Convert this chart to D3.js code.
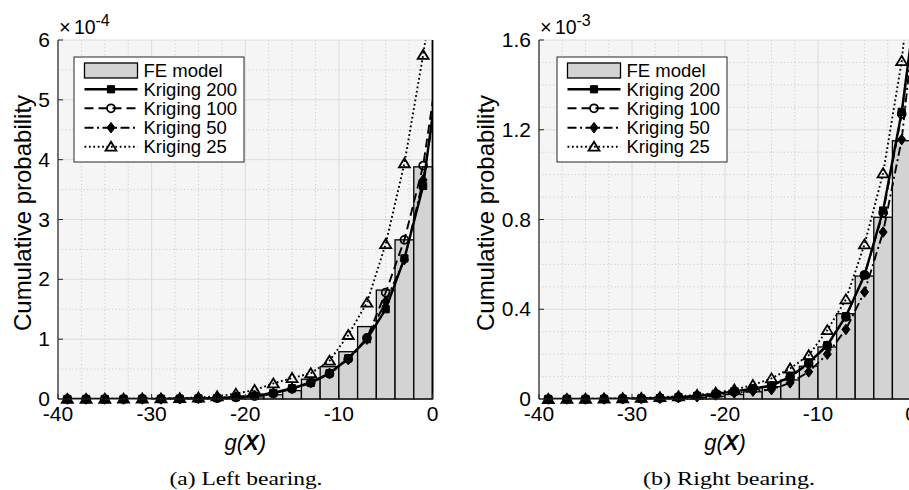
<!DOCTYPE html>
<html>
<head>
<meta charset="utf-8">
<script src="https://cdn.jsdelivr.net/npm/d3@7/dist/d3.min.js"></script>
<style>
  body { margin: 0; background: #fff; }
  svg { display: block; }
  text { font-family: "Liberation Sans", Arial, Helvetica, sans-serif; fill: #000; }
</style>
</head>
<body>
<svg id="chart" width="909" height="490"></svg>
<script>
// ---- data -------------------------------------------------------------
// g(X) points where the Kriging CDFs are evaluated (the last one lies past the axis limit)
const gPoints = [-39, -37, -35, -33, -31, -29, -27, -25, -23, -21, -19, -17, -15, -13, -11, -9, -7, -5, -3, -1, 1];
// FE model histogram: bin edges (width 2) and cumulative probability per bin
const binStart = [-40, -38, -36, -34, -32, -30, -28, -26, -24, -22, -20, -18, -16, -14, -12, -10, -8, -6, -4, -2];
const binEnd   = [-38, -36, -34, -32, -30, -28, -26, -24, -22, -20, -18, -16, -14, -12, -10, -8, -6, -4, -2, 0];

// Left bearing (x 1e-4)
const leftFE    = [0, 0, 0, 0, 0, 0.001, 0.002, 0.004, 0.008, 0.015, 0.035, 0.07, 0.14, 0.33, 0.54, 0.79, 1.21, 1.82, 2.66, 3.88];
const leftK200  = [0, 0, 0, 0, 0.001, 0.002, 0.004, 0.008, 0.015, 0.03, 0.05, 0.10, 0.18, 0.27, 0.43, 0.68, 1.00, 1.50, 2.35, 3.56, 5.9];
const leftK100  = [0, 0, 0, 0, 0.001, 0.002, 0.004, 0.008, 0.015, 0.03, 0.05, 0.09, 0.17, 0.27, 0.42, 0.67, 1.02, 1.78, 2.66, 3.90, 6.0];
const leftK50   = [0, 0, 0, 0, 0.001, 0.002, 0.005, 0.01, 0.02, 0.035, 0.06, 0.10, 0.18, 0.28, 0.43, 0.66, 1.00, 1.63, 2.33, 3.66, 5.6];
const leftK25   = [0.001, 0.002, 0.003, 0.005, 0.007, 0.01, 0.015, 0.025, 0.045, 0.09, 0.15, 0.26, 0.35, 0.43, 0.64, 1.07, 1.61, 2.59, 3.94, 5.75, 7.8];

// Right bearing (x 1e-3)
const rightFE   = [0, 0, 0, 0, 0, 0.001, 0.002, 0.004, 0.007, 0.012, 0.02, 0.032, 0.055, 0.085, 0.146, 0.232, 0.38, 0.548, 0.81, 1.151];
const rightK200 = [0, 0, 0, 0.0005, 0.001, 0.002, 0.004, 0.008, 0.014, 0.023, 0.034, 0.046, 0.06, 0.099, 0.161, 0.24, 0.369, 0.551, 0.84, 1.28, 1.91];
const rightK100 = [0, 0, 0, 0.0005, 0.001, 0.002, 0.004, 0.008, 0.014, 0.022, 0.033, 0.045, 0.058, 0.097, 0.158, 0.238, 0.366, 0.553, 0.83, 1.27, 1.90];
const rightK50  = [0, 0, 0, 0, 0.001, 0.002, 0.003, 0.006, 0.01, 0.018, 0.027, 0.035, 0.042, 0.072, 0.121, 0.20, 0.31, 0.477, 0.744, 1.156, 1.93];
const rightK25  = [0, 0.0005, 0.001, 0.002, 0.003, 0.005, 0.008, 0.012, 0.018, 0.028, 0.042, 0.062, 0.092, 0.136, 0.195, 0.307, 0.444, 0.689, 1.006, 1.506, 2.33];

// axis ticks and labels
const xTicks = [-40, -30, -20, -10, 0];
const leftYTicks = [0, 1, 2, 3, 4, 5, 6];
const leftYTickLabels = ["0", "1", "2", "3", "4", "5", "6"];
const rightYTicks = [0, 0.4, 0.8, 1.2, 1.6];
const rightYTickLabels = ["0", "0.4", "0.8", "1.2", "1.6"];
const seriesNames = ["FE model", "Kriging 200", "Kriging 100", "Kriging 50", "Kriging 25"];
const captions = ["(a) Left bearing.", "(b) Right bearing."];
const exponents = ["-4", "-3"];

// ---- styles -----------------------------------------------------------
const barFill = "#d3d3d3";
const plotBg = "#f5f5f5";
const axisColor = "#262626";

const markerPaths = {
  square:   "M-3.6,-3.6H3.6V3.6H-3.6Z",
  circle:   "M4,0A4,4 0 1,1 -4,0A4,4 0 1,1 4,0Z",
  diamond:  "M0,-5.3L4,0L0,5.3L-4,0Z",
  triangle: "M0,-5L5.5,4L-5.5,4Z"
};

const lineStyles = [
  { name: seriesNames[1], width: 2.4, dash: null,          marker: "square",   fill: "#000",  mstroke: 1 },
  { name: seriesNames[2], width: 1.9, dash: "9,5",         marker: "circle",   fill: "none",  mstroke: 1.7 },
  { name: seriesNames[3], width: 1.9, dash: "9,3.5,2,3.5", marker: "diamond",  fill: "#000",  mstroke: 1 },
  { name: seriesNames[4], width: 1.9, dash: "1.8,2.6",     marker: "triangle", fill: "none",  mstroke: 1.8 }
];

const svg = d3.select("#chart");

function drawPanel(cfg) {
  const x = d3.scaleLinear().domain([-40, 0]).range([cfg.x0, cfg.x1]);
  const y = d3.scaleLinear().domain([0, cfg.yMax]).range([cfg.yBot, cfg.yTop]);
  const g = svg.append("g");
  const clipId = "clip-" + cfg.id;

  g.append("clipPath").attr("id", clipId)
    .append("rect")
    .attr("x", cfg.x0).attr("y", cfg.yTop)
    .attr("width", cfg.x1 - cfg.x0).attr("height", cfg.yBot - cfg.yTop);

  // plot background
  g.append("rect")
    .attr("x", cfg.x0).attr("y", cfg.yTop)
    .attr("width", cfg.x1 - cfg.x0).attr("height", cfg.yBot - cfg.yTop)
    .attr("fill", plotBg);

  // minor grid (dotted)
  const xMinor = d3.range(-40, 0.001, 2.5).filter(v => !xTicks.includes(v));
  const yMinor = d3.range(0, cfg.yMax + 1e-9, cfg.yMinorStep)
    .filter(v => !cfg.yTicks.some(t => Math.abs(t - v) < 1e-9));
  g.append("g").selectAll("line").data(xMinor).join("line")
    .attr("x1", d => x(d)).attr("x2", d => x(d))
    .attr("y1", cfg.yTop).attr("y2", cfg.yBot)
    .attr("stroke", "#bdbdbd").attr("stroke-width", 0.8).attr("stroke-dasharray", "1,2.6");
  g.append("g").selectAll("line").data(yMinor).join("line")
    .attr("x1", cfg.x0).attr("x2", cfg.x1)
    .attr("y1", d => y(d)).attr("y2", d => y(d))
    .attr("stroke", "#bdbdbd").attr("stroke-width", 0.8).attr("stroke-dasharray", "1,2.6");

  // major grid
  g.append("g").selectAll("line").data(xTicks).join("line")
    .attr("x1", d => x(d)).attr("x2", d => x(d))
    .attr("y1", cfg.yTop).attr("y2", cfg.yBot)
    .attr("stroke", "#dcdcdc").attr("stroke-width", 1);
  g.append("g").selectAll("line").data(cfg.yTicks).join("line")
    .attr("x1", cfg.x0).attr("x2", cfg.x1)
    .attr("y1", d => y(d)).attr("y2", d => y(d))
    .attr("stroke", "#dcdcdc").attr("stroke-width", 1);

  // FE model histogram bars
  g.append("g").selectAll("rect").data(cfg.fe).join("rect")
    .attr("x", (d, i) => x(binStart[i]))
    .attr("width", (d, i) => x(binEnd[i]) - x(binStart[i]))
    .attr("y", d => y(d))
    .attr("height", d => y(0) - y(d))
    .attr("fill", barFill).attr("stroke", "#000").attr("stroke-width", 1.3);

  // Kriging curves
  const line = d3.line().x(d => x(d[0])).y(d => y(d[1]));
  cfg.series.forEach((vals, k) => {
    const st = lineStyles[k];
    const pts = gPoints.map((gv, i) => [gv, vals[i]]);
    g.append("path")
      .attr("clip-path", `url(#${clipId})`)
      .attr("d", line(pts))
      .attr("fill", "none").attr("stroke", "#000")
      .attr("stroke-width", st.width)
      .attr("stroke-dasharray", st.dash);
    g.append("g").selectAll("path")
      .data(pts.filter(p => p[0] <= 0 && p[1] <= cfg.yMax))
      .join("path")
      .attr("transform", d => `translate(${x(d[0])},${y(d[1])})`)
      .attr("d", markerPaths[st.marker])
      .attr("fill", st.fill).attr("stroke", "#000").attr("stroke-width", st.mstroke);
  });

  // axes: left and bottom with inward ticks
  g.append("line").attr("x1", cfg.x0).attr("x2", cfg.x0)
    .attr("y1", cfg.yTop).attr("y2", cfg.yBot)
    .attr("stroke", axisColor).attr("stroke-width", 1.2);
  g.append("line").attr("x1", cfg.x0).attr("x2", cfg.x1)
    .attr("y1", cfg.yBot).attr("y2", cfg.yBot)
    .attr("stroke", axisColor).attr("stroke-width", 1.2);
  g.append("line").attr("x1", cfg.x1).attr("x2", cfg.x1)
    .attr("y1", cfg.yTop).attr("y2", cfg.yBot)
    .attr("stroke", "#000").attr("stroke-width", 1.8);
  g.append("g").selectAll("line").data(cfg.yTicks).join("line")
    .attr("x1", cfg.x0).attr("x2", cfg.x0 + 5)
    .attr("y1", d => y(d)).attr("y2", d => y(d))
    .attr("stroke", axisColor).attr("stroke-width", 1);
  g.append("g").selectAll("line").data(xTicks).join("line")
    .attr("x1", d => x(d)).attr("x2", d => x(d))
    .attr("y1", cfg.yBot).attr("y2", cfg.yBot - 5)
    .attr("stroke", axisColor).attr("stroke-width", 1);

  // tick labels
  g.append("g").selectAll("text").data(cfg.yTicks).join("text")
    .attr("x", cfg.x0 - 8).attr("y", d => y(d)).attr("dy", "0.34em")
    .attr("text-anchor", "end").attr("font-size", 21)
    .text((d, i) => cfg.yTickLabels[i]);
  g.append("g").selectAll("text").data(xTicks).join("text")
    .attr("x", d => x(d)).attr("y", 421)
    .attr("text-anchor", "middle").attr("font-size", 21)
    .text(d => d);

  // exponent marker above the y axis
  g.append("text").attr("x", cfg.x0 + 1).attr("y", 33.5).attr("font-size", 20).text("\u00d7");
  g.append("text").attr("x", cfg.x0 + 16).attr("y", 33.5).attr("font-size", 19.5).text("10");
  g.append("text").attr("x", cfg.x0 + 37.5).attr("y", 25.5).attr("font-size", 16).text(cfg.exponent);

  // axis titles
  g.append("text")
    .attr("transform", `translate(${cfg.yLabelX},213) rotate(-90)`)
    .attr("text-anchor", "middle").attr("font-size", 24)
    .text("Cumulative probability");
  const xl = g.append("text")
    .attr("x", (cfg.x0 + cfg.x1) / 2).attr("y", 450)
    .attr("text-anchor", "middle").attr("font-size", 22).attr("font-style", "italic");
  xl.append("tspan").text("g(");
  xl.append("tspan").attr("font-weight", "bold").text("X");
  xl.append("tspan").text(")");

  // legend
  const lg = g.append("g").attr("transform", `translate(${cfg.legendX},57)`);
  lg.append("rect").attr("x", 0).attr("y", 0).attr("width", 170).attr("height", 105)
    .attr("fill", "#fff").attr("stroke", "#262626").attr("stroke-width", 1);
  const rowY = [13, 32.3, 51.3, 70.7, 89.7];
  lg.append("rect").attr("x", 10.5).attr("y", 6).attr("width", 53).attr("height", 15)
    .attr("fill", barFill).attr("stroke", "#000").attr("stroke-width", 1.3);
  lg.append("text").attr("x", 69.5).attr("y", rowY[0]).attr("dy", "0.36em")
    .attr("font-size", 18.5).text(seriesNames[0]);
  lineStyles.forEach((st, k) => {
    const ry = rowY[k + 1];
    lg.append("line").attr("x1", 10.5).attr("x2", 63.5).attr("y1", ry).attr("y2", ry)
      .attr("stroke", "#000").attr("stroke-width", st.width).attr("stroke-dasharray", st.dash);
    lg.append("path").attr("transform", `translate(37,${ry})`)
      .attr("d", markerPaths[st.marker])
      .attr("fill", st.fill).attr("stroke", "#000").attr("stroke-width", st.mstroke);
    lg.append("text").attr("x", 69.5).attr("y", ry).attr("dy", "0.36em")
      .attr("font-size", 18.5).text(st.name);
  });

  // caption
  svg.append("text")
    .attr("x", cfg.captionX).attr("y", 484.5)
    .attr("text-anchor", "middle")
    .attr("font-size", 19)
    .attr("textLength", cfg.captionLen).attr("lengthAdjust", "spacingAndGlyphs")
    .style("font-family", "'Liberation Serif', 'Times New Roman', serif")
    .text(cfg.caption);
}

drawPanel({
  id: "left", x0: 58, x1: 432.5, yTop: 40, yBot: 399, yMax: 6, yMinorStep: 0.5,
  yTicks: leftYTicks, yTickLabels: leftYTickLabels, exponent: exponents[0],
  fe: leftFE, series: [leftK200, leftK100, leftK50, leftK25],
  yLabelX: 31, legendX: 74, caption: captions[0], captionX: 246, captionLen: 153
});
drawPanel({
  id: "right", x0: 539, x1: 911, yTop: 40, yBot: 399, yMax: 1.6, yMinorStep: 0.1,
  yTicks: rightYTicks, yTickLabels: rightYTickLabels, exponent: exponents[1],
  fe: rightFE, series: [rightK200, rightK100, rightK50, rightK25],
  yLabelX: 493.5, legendX: 557, caption: captions[1], captionX: 729, captionLen: 172
});
</script>
</body>
</html>
